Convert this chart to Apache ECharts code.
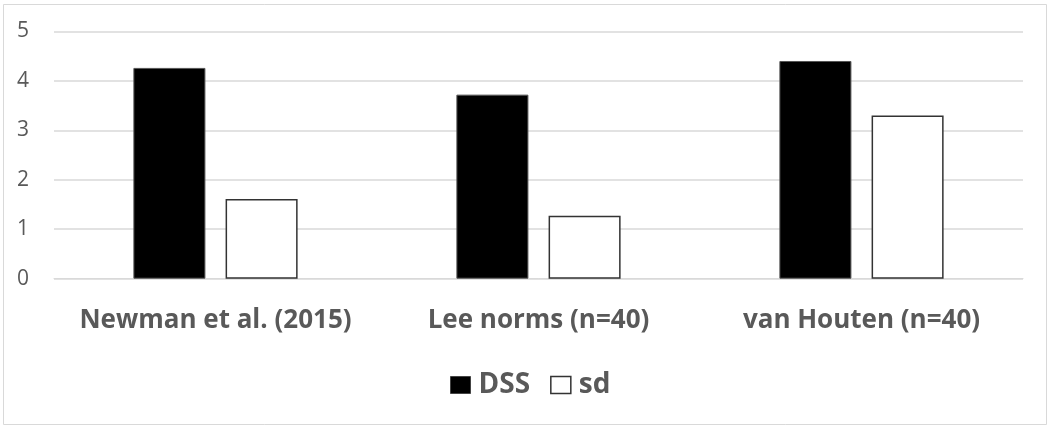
<!DOCTYPE html>
<html><head><meta charset="utf-8">
<script src="https://cdn.jsdelivr.net/npm/echarts@6/dist/echarts.min.js"></script>
<style>html,body{margin:0;padding:0;background:#fff}#c{width:1050px;height:429px}</style>
</head><body><div id="c"></div>
<script>
const categories = ["Newman et al. (2015)", "Lee norms (n=40)", "van Houten (n=40)"];
const dssValues = [4.26, 3.72, 4.40];
const sdValues = [1.61, 1.27, 3.30];
const yTicks = [0, 1, 2, 3, 4, 5];

const chart = echarts.init(document.getElementById('c'), null, {renderer: 'canvas'});
const font = '"Open Sans", sans-serif';
chart.setOption({
  animation: false,
  backgroundColor: '#fff',
  graphic: [{type: 'rect', shape: {x: 3.5, y: 4.5, width: 1043, height: 420}, style: {fill: 'none', stroke: '#d9d9d9', lineWidth: 1}}],
  grid: {left: 54, right: 27, top: 31.3, bottom: 429 - 278.7, containLabel: false},
  legend: {
    data: [
      {name: 'DSS', itemStyle: {color: '#000', borderColor: '#444', borderWidth: 1}},
      {name: 'sd', itemStyle: {color: '#fff', borderColor: '#333', borderWidth: 1.5}}
    ],
    left: 445, top: 364, itemWidth: 20, itemHeight: 17, itemGap: 20,
    icon: 'rect',
    textStyle: {color: '#595959', fontSize: 28, fontWeight: 'bold', fontFamily: font, padding: [0, 0, 0, 3], lineHeight: 32},
    selectedMode: false
  },
  xAxis: {
    type: 'category', data: categories,
    axisLine: {show: true, lineStyle: {color: '#d9d9d9'}}, axisTick: {show: false},
    axisLabel: {color: '#595959', fontSize: 26, fontWeight: 'bold', fontFamily: font, margin: 29,
      interval: 0, hideOverlap: false}
  },
  yAxis: {
    type: 'value', min: 0, max: 5, interval: 1,
    axisLine: {show: false}, axisTick: {show: false},
    splitLine: {lineStyle: {color: '#d9d9d9', width: 1.5}},
    axisLabel: {color: '#595959', fontSize: 21, fontFamily: font, margin: 25,
      formatter: v => yTicks.includes(v) ? String(v) : ''}
  },
  series: [
    {name: 'DSS', type: 'bar', data: dssValues, barWidth: '22.3%', barGap: '28%',
     itemStyle: {color: '#000', borderColor: '#555', borderWidth: 1}},
    {name: 'sd', type: 'bar', data: sdValues, barWidth: '22.3%',
     itemStyle: {color: '#fff', borderColor: '#333', borderWidth: 1.5}}
  ]
});
</script></body></html>
